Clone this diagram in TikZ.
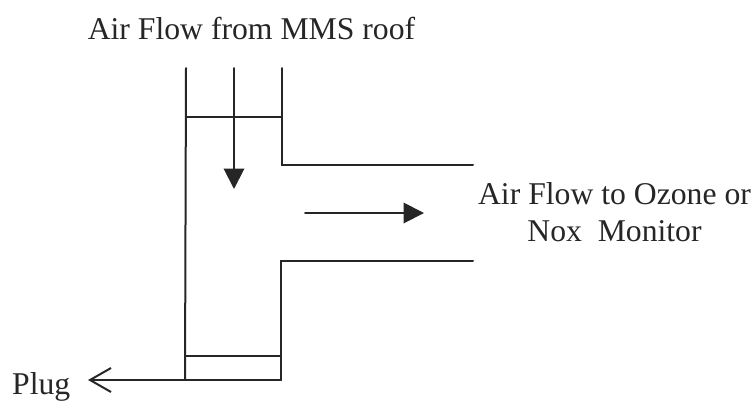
\documentclass[tikz,border=0pt]{standalone}
\usepackage{fontspec}
\setmainfont{Liberation Serif}
\usetikzlibrary{arrows.meta}
\tikzset{
  wall/.style={line width=2bp,color=black!85,line cap=round,line join=miter},
  flow/.style={wall,-{Triangle[length=20.5bp,width=20.5bp]}},
  plugarrow/.style={wall,-{Straight Barb[length=21bp,width=24bp,line width=2bp]}},
  label/.style={font=\fontsize{31.8}{37}\selectfont,text=black!85,inner sep=0pt,align=center}
}
\begin{document}
\begin{tikzpicture}[x=1bp,y=-1bp]
\useasboundingbox (0,0) rectangle (756,402);
\coordinate (lt) at (186,68);
\coordinate (lb) at (185,380);
\coordinate (rt) at (282,68);
\coordinate (ri) at (282,165);
\coordinate (ru) at (473,165);
\coordinate (rl) at (473,261);
\coordinate (rj) at (281,261);
\coordinate (rb) at (281,380);
\coordinate (cl) at (186,117);
\coordinate (cr) at (282,117);
\coordinate (pl) at (185,356);
\coordinate (pr) at (281,356);
\coordinate (tip) at (88,380);
\coordinate (at) at (234,68);
\coordinate (ab) at (234,189);
\coordinate (hs) at (305,213);
\coordinate (he) at (424,213);
\node[label,anchor=base] (top) at (251.5,39) {Air Flow from MMS roof};
\node[label,anchor=center] (mon) at (614.5,212) {Air Flow to Ozone or\\Nox~ Monitor};
\node[label,anchor=base west] (plug) at (12,394) {Plug};
\draw[wall] (lt) -- (lb);
\draw[wall] (rt) -- (ri) -- (ru);
\draw[wall] (rl) -- (rj) -- (rb);
\draw[wall] (cl) -- (cr);
\draw[wall] (pl) -- (pr);
\draw[plugarrow] (rb) -- (tip);
\draw[flow] (at) -- (ab);
\draw[flow] (hs) -- (he);
\end{tikzpicture}
\end{document}
